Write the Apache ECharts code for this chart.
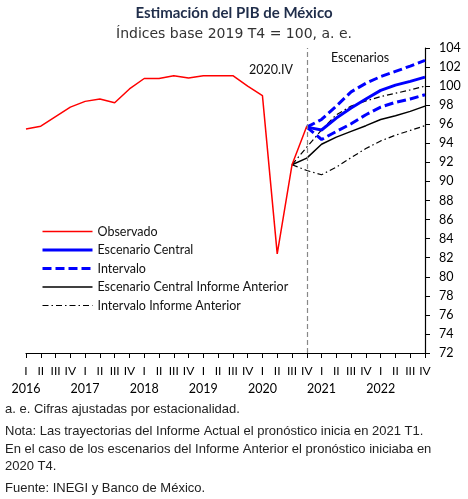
<!DOCTYPE html>
<html>
<head>
<meta charset="utf-8">
<script src="https://cdn.jsdelivr.net/npm/echarts@6/dist/echarts.min.js"></script>
<style>
  html, body { margin: 0; padding: 0; background: #fff; }
  #main { width: 468px; height: 499px; }
</style>
</head>
<body>
<div id="main"></div>
<script>
// Trimestres 2016 I - 2022 IV
const years = ['2016', '2017', '2018', '2019', '2020', '2021', '2022'];
const quarters = ['I', 'II', 'III', 'IV'];

// Observado (2016 I - 2020 IV)
const observado = [95.5, 95.8, 96.8, 97.8, 98.4, 98.65, 98.25, 99.7, 100.8, 100.8,
  101.1, 100.85, 101.1, 101.1, 101.1, 100.0, 99.0, 82.4, 91.75, 95.8];

// Informe actual (2020 IV - 2022 IV)
const central = [95.7, 95.4, 96.65, 97.7, 98.65, 99.55, 100.1, 100.5, 100.95];
const intervaloSup = [95.7, 96.5, 97.9, 99.4, 100.3, 101.0, 101.55, 102.1, 102.7];
const intervaloInf = [95.7, 94.4, 95.25, 96.05, 97.0, 97.8, 98.3, 98.65, 99.1];

// Informe anterior (2020 III - 2022 IV)
const centralAnt = [91.75, 92.45, 93.9, 94.65, 95.25, 95.85, 96.5, 96.9, 97.35, 97.9];
const intervaloAntSup = [91.75, 93.6, 95.4, 97.0, 97.9, 98.45, 98.9, 99.25, 99.6, 100.0];
const intervaloAntInf = [91.75, 91.15, 90.7, 91.5, 92.5, 93.45, 94.25, 94.85, 95.35, 95.85];

const categories = [];
years.forEach(y => quarters.forEach(q => categories.push(y + '-' + q)));

// rellena con null hasta el trimestre de inicio
function pad(values, start) {
  const out = new Array(categories.length).fill(null);
  values.forEach((v, i) => { out[start + i] = v; });
  return out;
}

const chart = echarts.init(document.getElementById('main'));
const calibri = 'Lato, "Noto Sans", sans-serif';
const arial = '"Liberation Sans", Arial, sans-serif';

chart.setOption({
  backgroundColor: '#fff',
  animation: false,
  title: {
    text: 'Estimación del PIB de México',
    subtext: 'Índices base 2019 T4 = 100, a. e.',
    left: 'center',
    top: 1,
    itemGap: 6,
    textStyle: { fontFamily: calibri, fontSize: 15, fontWeight: 'bold', color: '#1f2d4a' },
    subtextStyle: { fontFamily: '"DejaVu Sans", sans-serif', fontSize: 14, color: '#333' }
  },
  legend: {
    orient: 'vertical',
    left: 36,
    top: 220,
    itemWidth: 50,
    itemHeight: 12,
    itemGap: 5.5,
    itemStyle: { opacity: 0 },
    textStyle: { fontFamily: calibri, fontSize: 12.5, color: '#111' },
    data: [
      { name: 'Observado', lineStyle: { width: 1.5 } },
      { name: 'Escenario Central', lineStyle: { width: 3 } },
      { name: 'Intervalo', lineStyle: { width: 3 } },
      { name: 'Escenario Central Informe Anterior', lineStyle: { width: 1.5 } },
      { name: 'Intervalo Informe Anterior', lineStyle: { width: 1.2 } }
    ]
  },
  grid: { left: 26, right: 43, top: 48, bottom: 146 },
  xAxis: [
    {
      type: 'category',
      data: categories,
      boundaryGap: false,
      axisLine: { lineStyle: { color: '#000', width: 1.2 } },
      axisTick: { interval: 0, length: 5, lineStyle: { color: '#000' } },
      axisLabel: {
        interval: 0,
        margin: 12,
        fontFamily: calibri,
        fontSize: 12,
        color: '#000',
        formatter: v => v.split('-')[1]
      }
    },
    {
      type: 'category',
      data: categories,
      boundaryGap: false,
      position: 'bottom',
      offset: 19,
      axisLine: { show: false },
      axisTick: { show: false },
      axisLabel: {
        interval: 0,
        margin: 10,
        fontFamily: calibri,
        fontSize: 12.5,
        color: '#000',
        formatter: v => v.endsWith('-I') ? v.split('-')[0] : ''
      }
    }
  ],
  yAxis: {
    type: 'value',
    position: 'right',
    min: 72,
    max: 104,
    interval: 2,
    splitLine: { show: false },
    axisLine: { show: true, lineStyle: { color: '#000', width: 1.2 } },
    axisTick: { show: true, length: 5, lineStyle: { color: '#000' } },
    axisLabel: { margin: 14, fontFamily: calibri, fontSize: 12.5, color: '#000' }
  },
  graphic: [
    { type: 'text', left: 249, top: 63, style: { text: '2020.IV', font: '12.5px ' + calibri, fill: '#111' } },
    { type: 'text', left: 331, top: 51, style: { text: 'Escenarios', font: '12.5px ' + calibri, fill: '#111' } },
    { type: 'text', left: 5, top: 403, style: { text: 'a. e. Cifras ajustadas por estacionalidad.', font: '13px ' + arial, fill: '#222' } },
    { type: 'text', left: 5, top: 425, style: { text: 'Nota: Las trayectorias del Informe Actual el pronóstico inicia en 2021 T1.', font: '13px ' + arial, fill: '#222' } },
    { type: 'text', left: 5, top: 443, style: { text: 'En el caso de los escenarios del Informe Anterior el pronóstico iniciaba en', font: '13px ' + arial, fill: '#222' } },
    { type: 'text', left: 5, top: 460, style: { text: '2020 T4.', font: '13px ' + arial, fill: '#222' } },
    { type: 'text', left: 5, top: 482, style: { text: 'Fuente: INEGI y Banco de México.', font: '13px ' + arial, fill: '#222' } }
  ],
  series: [
    {
      name: 'Intervalo Informe Anterior',
      type: 'line',
      data: pad(intervaloAntSup, 18),
      symbol: 'none',
      lineStyle: { color: '#000', width: 1.2, type: [6, 3, 1.5, 3] },
      itemStyle: { color: '#000' }
    },
    {
      name: 'Intervalo Informe Anterior',
      type: 'line',
      data: pad(intervaloAntInf, 18),
      symbol: 'none',
      lineStyle: { color: '#000', width: 1.2, type: [6, 3, 1.5, 3] },
      itemStyle: { color: '#000' }
    },
    {
      name: 'Escenario Central Informe Anterior',
      type: 'line',
      data: pad(centralAnt, 18),
      symbol: 'none',
      lineStyle: { color: '#000', width: 1.5 },
      itemStyle: { color: '#000' }
    },
    {
      name: 'Intervalo',
      type: 'line',
      data: pad(intervaloSup, 19),
      symbol: 'none',
      lineStyle: { color: '#0000ff', width: 3, type: [9, 4] },
      itemStyle: { color: '#0000ff' }
    },
    {
      name: 'Intervalo',
      type: 'line',
      data: pad(intervaloInf, 19),
      symbol: 'none',
      lineStyle: { color: '#0000ff', width: 3, type: [9, 4] },
      itemStyle: { color: '#0000ff' }
    },
    {
      name: 'Escenario Central',
      type: 'line',
      data: pad(central, 19),
      symbol: 'none',
      lineStyle: { color: '#0000ff', width: 3 },
      itemStyle: { color: '#0000ff' }
    },
    {
      name: 'Observado',
      type: 'line',
      data: pad(observado, 0),
      symbol: 'none',
      lineStyle: { color: '#ff0000', width: 1.5 },
      itemStyle: { color: '#ff0000' },
      markLine: {
        silent: true,
        symbol: 'none',
        label: { show: false },
        lineStyle: { color: '#888', width: 1.2, type: [5, 3] },
        data: [{ xAxis: '2020-IV' }]
      }
    }
  ]
});
</script>
</body>
</html>
